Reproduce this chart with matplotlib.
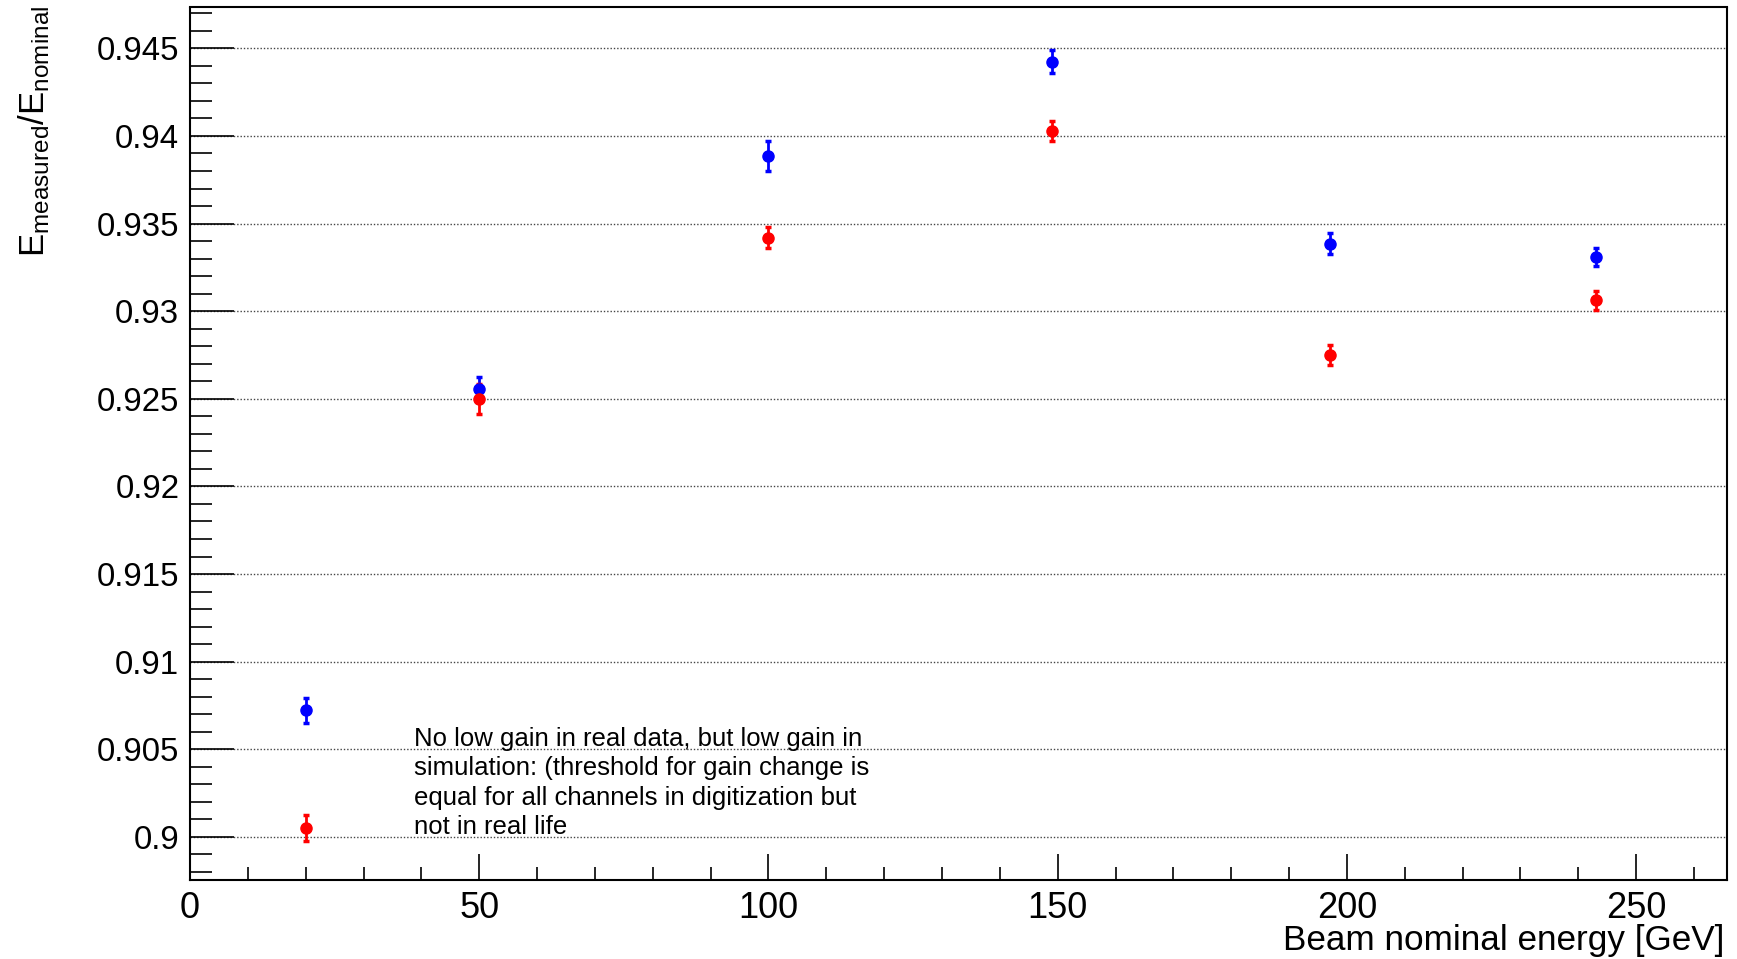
import matplotlib
matplotlib.use('Agg')
import matplotlib.pyplot as plt
from matplotlib.ticker import MultipleLocator

# beam energies [GeV]
energy = [20, 50, 100, 149, 197, 243]

# blue series
blue_ratio = [0.90723, 0.92557, 0.93884, 0.94424, 0.93386, 0.93308]
blue_err = [0.00072, 0.00070, 0.00085, 0.00065, 0.00060, 0.00053]

# red series
red_ratio = [0.90052, 0.92498, 0.93420, 0.94030, 0.92750, 0.93061]
red_err = [0.00075, 0.00085, 0.00060, 0.00057, 0.00055, 0.00057]

note = ("No low gain in real data, but low gain in\n"
        "simulation: (threshold for gain change is\n"
        "equal for all channels in digitization but\n"
        "not in real life")

plt.rcParams['font.family'] = ['Liberation Sans', 'DejaVu Sans']
plt.rcParams['mathtext.fontset'] = 'custom'
plt.rcParams['mathtext.rm'] = 'Liberation Sans'
plt.rcParams['mathtext.it'] = 'Liberation Sans'

W, H = 1737, 959
fig = plt.figure(figsize=(W / 100, H / 100), dpi=100)
ax = fig.add_axes([190 / W, 1 - 880 / H, (1727 - 190) / W, (880 - 7.5) / H])

ax.errorbar(energy, blue_ratio, yerr=blue_err, fmt='o', color='#0000ff',
            markersize=8, elinewidth=2, capsize=2.5, capthick=2.5, zorder=3)
ax.errorbar(energy, red_ratio, yerr=red_err, fmt='o', color='#ff0000',
            markersize=8, elinewidth=2, capsize=2.5, capthick=2.5, zorder=3)

ax.set_xlim(0, 265.7)
ax.set_ylim(0.89754, 0.94733)

ax.xaxis.set_major_locator(MultipleLocator(50))
ax.xaxis.set_minor_locator(MultipleLocator(10))
ax.yaxis.set_major_locator(MultipleLocator(0.005))
ax.yaxis.set_minor_locator(MultipleLocator(0.001))
ax.yaxis.set_major_formatter(plt.FuncFormatter(lambda v, p: ('%.3f' % v).rstrip('0').rstrip('.')))

ax.tick_params(axis='both', which='both', direction='in', top=False, right=False,
               colors='black', width=1.2)
ax.tick_params(axis='y', which='major', length=32, pad=7.7, labelsize=23.8)
ax.tick_params(axis='y', which='minor', length=16)
ax.tick_params(axis='x', which='major', length=19, pad=7.7, labelsize=26)
ax.tick_params(axis='x', which='minor', length=9.5)

ax.grid(axis='y', which='major', color='#444444', linestyle=(0, (1, 1.4)), linewidth=1)
for s in ax.spines.values():
    s.set_linewidth(1.5)

ax.text(38.8, 0.90629, note, fontsize=18.5, va='top', ha='left', linespacing=1.29)

fig.text(16.7 / W, 1 - 6 / H, r'$\mathregular{E_{measured}/E_{nominal}}$',
         fontsize=25, rotation=90, ha='left', va='top')
fig.text(1724 / W, 1 - 950 / H, 'Beam nominal energy [GeV]',
         fontsize=25.3, ha='right', va='baseline')

fig.savefig('out.png', dpi=100)
